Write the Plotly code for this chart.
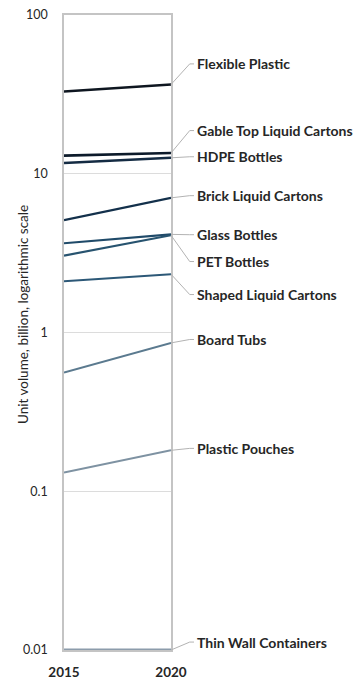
import math
import plotly.graph_objects as go

# Unit volumes (billion) by pack type, 2015 and 2020
years = [2015, 2020]
pack_types = [
    "Flexible Plastic",
    "Gable Top Liquid Cartons",
    "HDPE Bottles",
    "Brick Liquid Cartons",
    "Glass Bottles",
    "PET Bottles",
    "Shaped Liquid Cartons",
    "Board Tubs",
    "Plastic Pouches",
    "Thin Wall Containers",
]
volume_2015 = [33.0, 13.0, 11.7, 5.1, 3.65, 3.05, 2.1, 0.56, 0.131, 0.01]
volume_2020 = [36.5, 13.5, 12.6, 7.05, 4.15, 4.1, 2.33, 0.86, 0.181, 0.01]
y_ticks = [0.01, 0.1, 1, 10, 100]
y_tick_text = ["0.01", "0.1", "1", "10", "100"]

# styling per series
line_colors = ["#0e1620", "#0c1a2a", "#142b43", "#13304b", "#1f4a69",
               "#27536f", "#2c5877", "#5b7a8f", "#7e92a2", "#8c9cab"]
line_widths = [2.6, 2.6, 2.4, 2.2, 2.2, 2.2, 2.0, 2.0, 2.0, 3.2]
# vertical label placement (log10 units) so labels do not collide
label_log_y = [1.692, 1.272, 1.107, 0.862, 0.616, 0.447, 0.239, -0.044, -0.730, -1.950]

Y_MIN, Y_MAX = -2.0, 2.0


def to_paper(log_value):
    return (log_value - Y_MIN) / (Y_MAX - Y_MIN)


fig = go.Figure()
for name, v0, v1, c, w in zip(pack_types, volume_2015, volume_2020, line_colors, line_widths):
    fig.add_trace(go.Scatter(
        x=years, y=[v0, v1], mode="lines", name=name,
        line=dict(color=c, width=w), cliponaxis=False, showlegend=False,
    ))

LABEL_FONT = dict(family="Lato, 'Open Sans', sans-serif", size=14, color="#262626", weight=700)
x_end, x_bend, x_label = 1.0, 1.175, 1.215
shapes = []
annotations = []
for name, v1, ly in zip(pack_types, volume_2020, label_log_y):
    y_start = to_paper(math.log10(v1))
    y_lab = to_paper(ly)
    shapes.append(dict(type="line", xref="paper", yref="paper",
                       x0=x_end, y0=y_start, x1=x_bend, y1=y_lab,
                       line=dict(color="#b3b3b3", width=1)))
    shapes.append(dict(type="line", xref="paper", yref="paper",
                       x0=x_bend, y0=y_lab, x1=x_label, y1=y_lab,
                       line=dict(color="#b3b3b3", width=1)))
    annotations.append(dict(text=name, xref="paper", yref="paper",
                            x=x_label + 0.01, y=y_lab, xanchor="left", yanchor="middle",
                            showarrow=False, font=LABEL_FONT))

# vertical axis title, placed close to the tick labels
annotations.append(dict(
    text="Unit volume, billion, logarithmic scale",
    xref="paper", yref="paper", x=-0.39, y=0.528,
    xanchor="center", yanchor="middle", textangle=-90, showarrow=False,
    font=dict(family="Lato, 'Open Sans', sans-serif", size=13.5, color="#262626"),
))

fig.update_layout(
    width=359, height=680,
    margin=dict(l=64, r=188, t=15, b=30),
    paper_bgcolor="white", plot_bgcolor="white",
    shapes=shapes, annotations=annotations,
    font=dict(family="Lato, 'Open Sans', sans-serif", color="#262626"),
)
fig.update_xaxes(
    range=[2015, 2020], tickvals=years, ticktext=[str(y) for y in years],
    showgrid=False, zeroline=False, automargin=False,
    showline=True, mirror=True, linecolor="#c4c4c4", linewidth=1.5,
    ticks="", ticklabelstandoff=9,
    tickfont=dict(size=13.5, weight=700, color="#262626"),
)
fig.update_yaxes(
    type="log", range=[Y_MIN, Y_MAX], tickvals=y_ticks, ticktext=y_tick_text,
    showgrid=True, gridcolor="#dcdcdc", gridwidth=1, automargin=False,
    showline=True, mirror=True, linecolor="#c4c4c4", linewidth=1.5,
    ticks="", ticklabelstandoff=12,
    tickfont=dict(size=12.5, color="#262626"),
)

fig.write_html("out.html")
